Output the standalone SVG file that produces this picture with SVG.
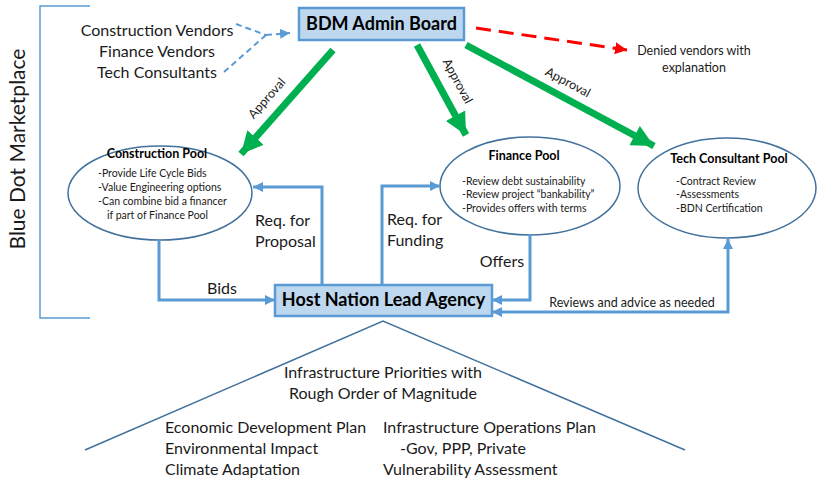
<svg xmlns="http://www.w3.org/2000/svg" width="817" height="482" viewBox="0 0 817 482">
  <defs>
    <style>
      text { font-family: Lato, "Liberation Sans", sans-serif; fill: #1a1a1a; }
      .box { fill: #BDD7EE; stroke: #5B9BD5; stroke-width: 2.5; }
      .boxlabel { font-size: 18px; font-weight: bold; text-anchor: middle; fill: #000; }
      .pool { fill: #fff; stroke: #41719C; stroke-width: 1.5; }
      .pooltitle { font-size: 12.5px; font-weight: bold; text-anchor: middle; fill: #000; }
      .poolitem { font-size: 10.5px; }
      .flow { fill: none; stroke: #5B9BD5; stroke-width: 3; }
      .approve { fill: none; stroke: #00B050; stroke-width: 7; }
      .lbl { font-size: 16px; }
      .small { font-size: 12.5px; }
      .bracket { fill: none; stroke: #5B9BD5; stroke-width: 1.5; }
    </style>
    <marker id="blueHead" markerUnits="userSpaceOnUse" markerWidth="12" markerHeight="12" refX="10" refY="6" orient="auto">
      <path d="M0,1 L10,6 L0,11 Z" fill="#5B9BD5"/>
    </marker>
    <marker id="blueHeadStart" markerUnits="userSpaceOnUse" markerWidth="12" markerHeight="12" refX="0" refY="6" orient="auto">
      <path d="M10,1 L0,6 L10,11 Z" fill="#5B9BD5"/>
    </marker>
    <marker id="greenHead" markerUnits="userSpaceOnUse" markerWidth="26" markerHeight="26" refX="22" refY="13" orient="auto">
      <path d="M0,2 L22,13 L0,24 Z" fill="#00B050"/>
    </marker>
    <marker id="redHead" markerUnits="userSpaceOnUse" markerWidth="14" markerHeight="14" refX="12" refY="7" orient="auto">
      <path d="M0,1 L12,7 L0,13 Z" fill="#FF0000"/>
    </marker>
  </defs>

  <!-- Marketplace bracket and side title -->
  <g id="marketplace">
    <path class="bracket" d="M90,6 H40 V318 H90"/>
    <text transform="translate(25,149) rotate(-90)" text-anchor="middle" font-size="21">Blue Dot Marketplace</text>
  </g>

  <!-- Vendor applicants -->
  <g id="vendors">
    <text class="lbl" x="157" y="36" text-anchor="middle">Construction Vendors</text>
    <text class="lbl" x="157" y="57" text-anchor="middle">Finance Vendors</text>
    <text class="lbl" x="157" y="78" text-anchor="middle">Tech Consultants</text>
  </g>

  <!-- Admin board -->
  <g id="bdm-admin-board">
    <rect class="box" x="299" y="8" width="165" height="32"/>
    <text class="boxlabel" x="381.5" y="30">BDM Admin Board</text>
  </g>

  <!-- Denied vendors note -->
  <g id="denied">
    <text class="small" x="694" y="55" text-anchor="middle">Denied vendors with</text>
    <text class="small" x="694" y="72" text-anchor="middle">explanation</text>
  </g>

  <!-- Pools -->
  <g id="construction-pool">
    <ellipse class="pool" cx="160" cy="193" rx="92" ry="47"/>
    <text class="pooltitle" x="157" y="158">Construction Pool</text>
    <text class="poolitem" x="98" y="177">-Provide  Life Cycle Bids</text>
    <text class="poolitem" x="98" y="191">-Value Engineering options</text>
    <text class="poolitem" x="98" y="205">-Can combine bid a financer</text>
    <text class="poolitem" x="107" y="219">if part of Finance Pool</text>
  </g>

  <g id="finance-pool">
    <ellipse class="pool" cx="530" cy="186" rx="90" ry="49"/>
    <text class="pooltitle" x="524" y="160">Finance Pool</text>
    <text class="poolitem" x="462" y="185">-Review debt  sustainability</text>
    <text class="poolitem" x="462" y="198">-Review project  “bankability”</text>
    <text class="poolitem" x="462" y="212">-Provides offers with terms</text>
  </g>

  <g id="tech-consultant-pool">
    <ellipse class="pool" cx="727" cy="188" rx="89" ry="50"/>
    <text class="pooltitle" x="729" y="163">Tech Consultant Pool</text>
    <text class="poolitem" x="676" y="185">-Contract Review</text>
    <text class="poolitem" x="676" y="198">-Assessments</text>
    <text class="poolitem" x="676" y="212">-BDN Certification</text>
  </g>

  <!-- Lead agency -->
  <g id="host-nation-lead-agency">
    <rect class="box" x="275" y="285" width="217" height="31"/>
    <text class="boxlabel" x="383.5" y="306">Host Nation Lead Agency</text>
  </g>

  <!-- Infrastructure priorities roof -->
  <g id="infrastructure-priorities">
    <path d="M85,450 L383,321 L685,450" fill="none" stroke="#41719C" stroke-width="1.5"/>
    <text class="lbl" x="383" y="378" text-anchor="middle">Infrastructure Priorities with</text>
    <text class="lbl" x="383" y="399" text-anchor="middle">Rough Order of Magnitude</text>
    <text class="lbl" x="165" y="433">Economic Development Plan</text>
    <text class="lbl" x="165" y="454">Environmental Impact</text>
    <text class="lbl" x="165" y="475">Climate Adaptation</text>
    <text class="lbl" x="383" y="433">Infrastructure Operations Plan</text>
    <text class="lbl" x="400" y="454">-Gov, PPP, Private</text>
    <text class="lbl" x="383" y="475">Vulnerability Assessment</text>
  </g>

  <!-- Connectors -->
  <g id="connectors">
    <!-- applications to the board -->
    <path d="M236,24 L266,35 M224,72 L266,35" fill="none" stroke="#5B9BD5" stroke-width="2" stroke-dasharray="6,4"/>
    <path d="M266,35 L290,33" fill="none" stroke="#5B9BD5" stroke-width="2" stroke-dasharray="6,4" marker-end="url(#blueHead)"/>
    <!-- denial -->
    <path d="M476,28 L627,50" fill="none" stroke="#FF0000" stroke-width="3" stroke-dasharray="15,8" marker-end="url(#redHead)"/>
    <!-- approvals -->
    <path class="approve" d="M333,50 L241,154" marker-end="url(#greenHead)"/>
    <path class="approve" d="M417,45 L466,135" marker-end="url(#greenHead)"/>
    <path class="approve" d="M466,45 L654,146" marker-end="url(#greenHead)"/>
    <text font-size="12.5" text-anchor="middle" transform="translate(270,101) rotate(-48.5)">Approval</text>
    <text font-size="12.5" text-anchor="middle" transform="translate(454,83) rotate(61.4)">Approval</text>
    <text font-size="12.5" text-anchor="middle" transform="translate(566,86) rotate(28)">Approval</text>

    <!-- bids -->
    <path class="flow" d="M159,240 V300 H275" marker-end="url(#blueHead)"/>
    <text class="lbl" x="222" y="294" text-anchor="middle">Bids</text>
    <!-- request for proposal -->
    <path class="flow" d="M322,285 V187 H253" marker-end="url(#blueHead)"/>
    <text class="lbl" x="255" y="226">Req. for</text>
    <text class="lbl" x="255" y="247">Proposal</text>
    <!-- request for funding -->
    <path class="flow" d="M382,285 V186 H440" marker-end="url(#blueHead)"/>
    <text class="lbl" x="387" y="225">Req. for</text>
    <text class="lbl" x="387" y="246">Funding</text>
    <!-- offers -->
    <path class="flow" d="M530,234 V300 H492" marker-end="url(#blueHead)"/>
    <text class="lbl" x="502" y="267" text-anchor="middle">Offers</text>
    <!-- reviews and advice -->
    <path class="flow" d="M492,312 H728 V239" marker-start="url(#blueHeadStart)" marker-end="url(#blueHead)"/>
    <text class="small" x="632" y="307" text-anchor="middle">Reviews and advice as needed</text>
  </g>
</svg>
